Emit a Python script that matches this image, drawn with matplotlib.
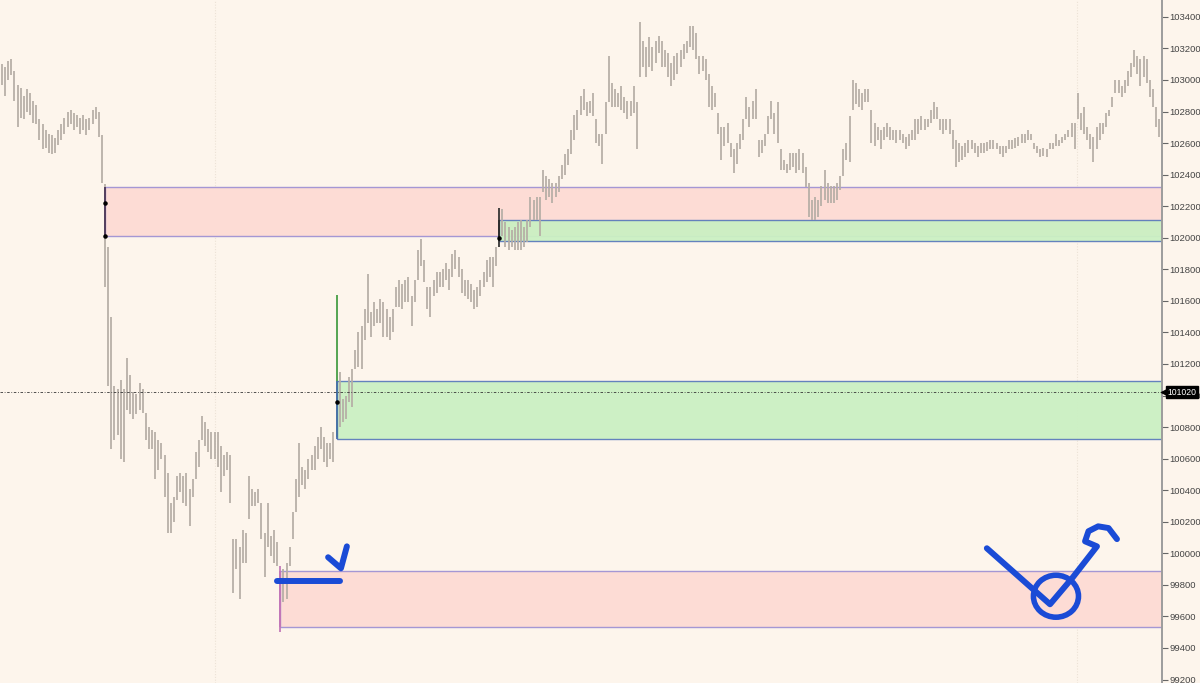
import matplotlib
matplotlib.use("Agg")
import matplotlib.pyplot as plt
import matplotlib.transforms as mtransforms
from matplotlib.patches import Rectangle, Ellipse
import numpy as np

plt.rcParams['font.family'] = ['Liberation Sans Narrow', 'Liberation Sans', 'DejaVu Sans']

# bar highs / lows, split by stretch of the session
highs_a = [103060, 103100, 103080, 103120, 103130, 103060, 102970, 102950, 102900, 102940,
           102920, 102870, 102840, 102750, 102720, 102680, 102660, 102650, 102630, 102680,
           102720, 102760, 102800, 102810, 102790, 102780, 102760, 102780, 102750, 102760,
           102810, 102830, 102800, 102650, 102340]
lows_a = [102940, 102970, 102900, 103000, 103030, 102870, 102700, 102760, 102750, 102800,
          102780, 102730, 102720, 102620, 102560, 102570, 102540, 102530, 102540, 102590,
          102620, 102660, 102700, 102720, 102680, 102700, 102660, 102680, 102650, 102680,
          102720, 102750, 102640, 102350, 101690]

highs_b = [101940, 101500, 101060, 101040, 101100, 101040, 101240, 101130, 101020, 101010,
           101080, 101040, 100890, 100800, 100780, 100770, 100720, 100700, 100620, 100510,
           100320, 100360, 100490, 100510, 100490, 100510, 100410, 100470, 100640, 100720,
           100870, 100830, 100790, 100770, 100770, 100770, 100680, 100620, 100640, 100620,
           100090, 100090, 100040, 100150, 100130, 100490, 100410, 100390, 100410, 100320,
           100130, 100320, 100110, 100150, 100070, 99920, 99900, 99940, 100040, 100260,
           100470, 100700, 100550, 100530, 100600, 100620, 100680, 100740, 100800, 100740,
           100700, 100700, 100770]
lows_b = [101060, 100660, 100720, 100750, 100600, 100580, 100910, 100880, 100850, 100880,
          100910, 100890, 100720, 100660, 100660, 100470, 100530, 100600, 100360, 100130,
          100130, 100200, 100340, 100390, 100320, 100300, 100170, 100360, 100470, 100550,
          100720, 100680, 100640, 100600, 100600, 100550, 100390, 100490, 100530, 100320,
          99750, 99900, 99710, 99940, 99940, 100220, 100300, 100300, 100320, 100090,
          99850, 100040, 99980, 99940, 99920, 99500, 99690, 99710, 99920, 100090,
          100260, 100360, 100430, 100410, 100470, 100530, 100530, 100600, 100660, 100580,
          100550, 100600, 100580]

highs_c = [101640, 101150, 100980, 101000, 101120, 101170, 101290, 101400, 101440, 101550,
           101770, 101530, 101590, 101550, 101610, 101590, 101550, 101500, 101550, 101690,
           101730, 101710, 101730, 101750, 101630, 101730, 101920, 101990, 101860, 101690,
           101690, 101730, 101780, 101780, 101800, 101840, 101800, 101900, 101920, 101880,
           101800, 101730, 101730, 101710, 101670, 101690, 101730, 101780, 101860, 101880,
           101880, 101940, 102190, 102180, 102100, 102070, 102050, 102070, 102100, 102110,
           102070, 102110, 102260, 102240, 102260, 102260, 102430, 102390, 102370, 102350,
           102350, 102390, 102460, 102530, 102560, 102680, 102780, 102810, 102900, 102940]
lows_c = [100740, 100800, 100830, 100850, 100960, 100930, 101170, 101180, 101170, 101350,
          101460, 101370, 101440, 101460, 101460, 101370, 101370, 101350, 101400, 101560,
          101560, 101550, 101590, 101590, 101440, 101590, 101730, 101820, 101720, 101550,
          101500, 101630, 101650, 101690, 101690, 101730, 101670, 101750, 101800, 101750,
          101650, 101630, 101610, 101590, 101550, 101560, 101630, 101690, 101720, 101750,
          101690, 101820, 101940, 102010, 101940, 101920, 101940, 101920, 101920, 101920,
          101940, 101970, 102070, 102110, 102110, 102010, 102290, 102240, 102260, 102220,
          102260, 102290, 102370, 102400, 102460, 102530, 102620, 102680, 102780, 102810]

highs_d = [102860, 102870, 102920, 102750, 102660, 102660, 102860, 103150, 102980, 102940,
           102920, 102960, 102890, 102870, 102870, 102960, 102860, 103370, 103250, 103210,
           103270, 103210, 103250, 103280, 103250, 103190, 103170, 103110, 103150, 103170,
           103190, 103230, 103250, 103340, 103340, 103300, 103150, 103150, 103130, 103040,
           102960, 102920, 102790, 102700, 102700, 102730, 102600, 102560, 102600, 102660,
           102750, 102890, 102830, 102870, 102940, 102620, 102620, 102660, 102770, 102870,
           102790, 102860]
lows_d = [102770, 102790, 102770, 102600, 102580, 102470, 102660, 102860, 102830, 102830,
          102830, 102810, 102790, 102750, 102770, 102790, 102560, 103020, 103080, 103020,
          103080, 103060, 103110, 103170, 103080, 103080, 103020, 102960, 103000, 103040,
          103080, 103130, 103170, 103210, 103190, 103130, 103040, 103060, 103000, 102830,
          102810, 102830, 102660, 102490, 102580, 102600, 102510, 102410, 102470, 102560,
          102620, 102750, 102700, 102750, 102750, 102510, 102540, 102580, 102660, 102750,
          102660, 102600]

highs_e = [102560, 102490, 102470, 102540, 102540, 102540, 102560, 102540, 102450, 102350,
           102240, 102260, 102240, 102330, 102430, 102350, 102330, 102330, 102350, 102390,
           102560, 102600, 102770, 103000, 102980, 102940, 102920, 102940, 102940, 102810,
           102730, 102700, 102680, 102700, 102730, 102700, 102680, 102680, 102680, 102660,
           102640, 102660, 102680, 102750, 102750, 102770, 102750, 102750, 102810, 102860,
           102830, 102750, 102750, 102750, 102750, 102680, 102620, 102600, 102580, 102600,
           102620, 102620, 102600, 102580, 102600, 102600, 102610, 102620, 102620, 102600,
           102580, 102580, 102580, 102620, 102620, 102630, 102640, 102660, 102660, 102680,
           102660, 102600, 102580, 102560, 102570, 102560, 102600, 102600, 102660, 102620,
           102640, 102660, 102680, 102730, 102730, 102920, 102790, 102830, 102700, 102660,
           102640, 102700, 102730, 102730, 102790, 102810, 102890, 103000, 103000, 102960,
           103000, 103060, 103110, 103190, 103150, 103130, 103150, 103130, 103000, 102940,
           102830, 102750]
lows_e = [102430, 102430, 102410, 102430, 102450, 102410, 102430, 102410, 102320, 102130,
          102110, 102110, 102130, 102200, 102240, 102220, 102220, 102220, 102240, 102300,
          102390, 102490, 102480, 102810, 102850, 102830, 102810, 102860, 102860, 102600,
          102580, 102620, 102560, 102620, 102640, 102620, 102620, 102600, 102620, 102600,
          102560, 102580, 102620, 102620, 102660, 102680, 102680, 102700, 102730, 102750,
          102750, 102680, 102660, 102680, 102660, 102560, 102450, 102480, 102490, 102510,
          102540, 102560, 102540, 102510, 102540, 102540, 102550, 102560, 102560, 102560,
          102530, 102510, 102540, 102560, 102560, 102570, 102580, 102600, 102600, 102620,
          102620, 102560, 102540, 102510, 102520, 102510, 102560, 102560, 102580, 102580,
          102600, 102620, 102640, 102640, 102560, 102750, 102680, 102660, 102620, 102560,
          102480, 102560, 102620, 102660, 102700, 102770, 102830, 102920, 102920, 102890,
          102920, 102960, 103020, 103080, 103040, 102960, 103020, 102980, 102890, 102830,
          102700, 102640]

highs = np.array(highs_a + highs_b + highs_c + highs_d + highs_e)
lows = np.array(lows_a + lows_b + lows_c + lows_d + lows_e)
bars = np.arange(len(highs))

# zones: (first bar, low, high)
supply_zones = [(34, 102010, 102320), (90, 99530, 99890)]
demand_zones = [(108, 100723, 101090), (160, 101980, 102110)]
edge_colors = {34: '#4b3558', 90: '#c276b8', 108: '#4a6fb0', 160: '#2e2e2e'}
bar_colors = {90: '#c276b8', 108: '#3f9b3f', 160: '#2e2e2e'}
anchor_dots = [(34, 102220), (34, 102010), (108, 100960), (160, 102000), (90, 99830)]
session_breaks = [69.1, 344.7]
last_price = 101020
price_ticks = list(range(99200, 103401, 200))

# hand-drawn marks (bar, price)
mark_dash = ([89.0, 109.1], [99825, 99825])
mark_tick = ([105.3, 109.4, 111.3], [99975, 99905, 100044])
mark_swoosh = ([315.9, 336.1, 343.4, 351.1, 347.3, 348.4, 351.5, 354.8, 357.5],
               [100032, 99677, 99848, 100044, 100076, 100140, 100171, 100160, 100090])
mark_circle = (338.0, 99728, 14.4, 266)

bg = '#fdf5ec'
blue = '#1a4bd6'

fig = plt.figure(figsize=(12, 6.83), dpi=100, facecolor=bg)
ax = fig.add_axes([0, 0, 1162 / 1200, 1])
ax.set_facecolor(bg)
x_right = len(highs) - 0.1
ax.set_xlim(0.4, x_right)
ax.set_ylim(99178, 103507)

for xb in session_breaks:
    ax.axvline(xb, color='#ece2d6', lw=0.8, ls=(0, (1, 1.5)), zorder=0)

for start, lo, hi in supply_zones:
    ax.add_patch(Rectangle((start, lo), x_right - start + 5, hi - lo, fc='#fddcd5',
                           ec='#a597d4', lw=1.0, zorder=1))
for start, lo, hi in demand_zones:
    ax.add_patch(Rectangle((start, lo), x_right - start + 5, hi - lo, fc='#cbf0c3',
                           ec='#5d7cbc', lw=1.0, zorder=1.5, alpha=0.95))

colors = [bar_colors.get(i, '#b5ada5') for i in bars]
ax.vlines(bars, lows, highs, colors=colors, lw=1.25, zorder=2)

for start, lo, hi in supply_zones + demand_zones:
    ax.vlines(start, lo, hi, colors=edge_colors[start], lw=1.3, zorder=2.5)

ax.scatter([d[0] for d in anchor_dots], [d[1] for d in anchor_dots], s=5, c='black', zorder=3)

ax.axhline(last_price, color='#333333', lw=0.6, ls=(0, (3, 2, 1, 2)), zorder=2.6)

# hand-drawn blue marks
kw = dict(color=blue, lw=4.3, solid_capstyle='round', solid_joinstyle='round', zorder=5)
ax.plot(*mark_dash, **kw)
ax.plot(*mark_tick, **kw)
ax.plot(*mark_swoosh, **kw)
cx, cy, cw, ch = mark_circle
ax.add_patch(Ellipse((cx, cy), cw, ch, angle=0, fill=False, ec=blue, lw=4.0, zorder=5))

# price axis
ax.yaxis.tick_right()
ax.set_yticks(price_ticks)
ax.set_yticklabels([str(p) for p in price_ticks])
ax.tick_params(axis='y', length=4, width=0.8, color='#666666', labelcolor='#444444',
               labelsize=6.8, pad=1.5)
ax.set_xticks([])
for side in ['top', 'left', 'bottom']:
    ax.spines[side].set_visible(False)
ax.spines['right'].set_color('#9c9c9c')
ax.spines['right'].set_linewidth(1.4)

# last price tag on the axis
trans = mtransforms.blended_transform_factory(ax.transAxes, ax.transData)
ax.plot([1.0025], [last_price], marker='<', ms=5.5, color='black', transform=trans,
        clip_on=False, zorder=6)
ax.text(1.0048, last_price, str(last_price), transform=trans, color='white', fontsize=6.2,
        ha='left', va='center', zorder=7, clip_on=False,
        bbox=dict(boxstyle='square,pad=0.18', fc='black', ec='black'))

fig.savefig('out.png', dpi=100, facecolor=bg)
